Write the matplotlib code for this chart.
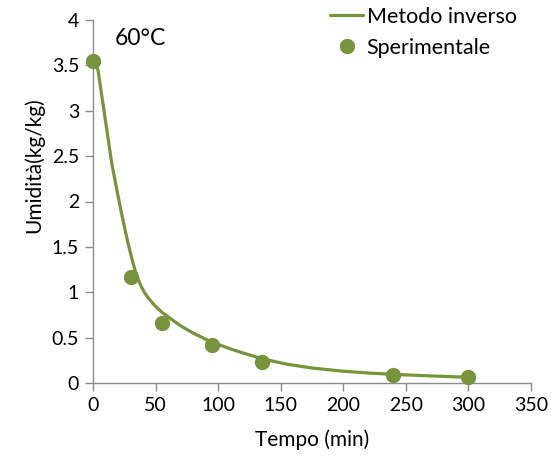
import matplotlib
matplotlib.use("Agg")
import matplotlib.pyplot as plt

plt.rcParams['font.family'] = ['Lato', 'DejaVu Sans']

# Experimental data
exp_t = [0, 30, 55, 95, 135, 240, 300]
exp_u = [3.55, 1.17, 0.66, 0.42, 0.235, 0.085, 0.065]

# Inverse method curve
model_t = [0, 4, 9, 15, 20, 24, 28, 32, 35, 38, 41, 44, 47, 51, 55, 60, 70, 80, 95, 110, 120, 135, 155, 175, 200, 220, 240, 270, 300]
model_u = [3.55, 3.45, 2.98, 2.42, 2.06, 1.79, 1.54, 1.32, 1.18, 1.08, 1.00, 0.94, 0.89, 0.83, 0.78, 0.73, 0.63, 0.55, 0.45, 0.375, 0.33, 0.268, 0.207, 0.165, 0.13, 0.11, 0.095, 0.078, 0.063]

xticks = [0, 50, 100, 150, 200, 250, 300, 350]
yticks = [0, 0.5, 1, 1.5, 2, 2.5, 3, 3.5, 4]
ytick_labels = ['0', '0.5', '1', '1.5', '2', '2.5', '3', '3.5', '4']

green = '#77933C'
FS = 14

fig = plt.figure(figsize=(5.51, 4.59), dpi=100)
ax = fig.add_axes([93/551, 1-383/459, (531-93)/551, (383-20)/459])

ax.plot(model_t, model_u, color=green, lw=2.3, solid_joinstyle='round', solid_capstyle='round', label='Metodo inverso', zorder=2)
ax.plot(exp_t, exp_u, 'o', color=green, ms=10, label='Sperimentale', zorder=3, clip_on=False)

ax.set_xlim(0, 350)
ax.set_ylim(0, 4)
ax.set_xticks(xticks)
ax.set_yticks(yticks)
ax.set_yticklabels(ytick_labels)

for s in ['top', 'right']:
    ax.spines[s].set_visible(False)
for s in ['left', 'bottom']:
    ax.spines[s].set_color('#8c8c8c')
    ax.spines[s].set_linewidth(1.0)
ax.tick_params(axis='both', direction='out', length=6, width=1.0, color='#8c8c8c', labelsize=FS, labelcolor='black', pad=4)

ax.set_xlabel('Tempo (min)', fontsize=15, va='center')
ax.xaxis.set_label_coords(0.5, (383-440)/363)
ax.set_ylabel('Umidità(kg/kg)', fontsize=15, va='center')
ax.yaxis.set_label_coords((34-93)/438, (383-165)/363)

ax.text(17.6, 3.80, '60°C', fontsize=16.5, ha='left', va='center')

leg = fig.legend(loc='upper left', bbox_to_anchor=(330/551, 1-7/459), bbox_transform=fig.transFigure,
                 frameon=False, fontsize=15.5, handlelength=1.55, handletextpad=0.15,
                 labelspacing=0.5, borderaxespad=0, borderpad=0)

fig.savefig('out.png', dpi=100)
